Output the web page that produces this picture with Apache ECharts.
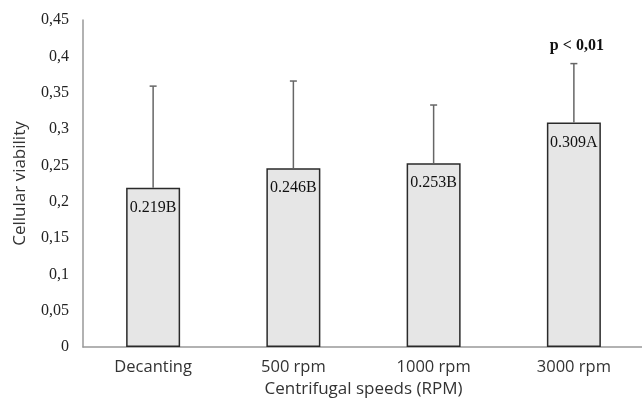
<!DOCTYPE html>
<html><head><meta charset="utf-8">
<script src="https://cdn.jsdelivr.net/npm/echarts@6/dist/echarts.min.js"></script>
<style>html,body{margin:0;padding:0;background:#fff}#c{width:642px;height:400px}</style>
</head><body><div id="c"></div>
<script>
const categories = ['Decanting', '500 rpm', '1000 rpm', '3000 rpm'];
const means = [0.219, 0.246, 0.253, 0.309];
const errorTops = [0.359, 0.366, 0.333, 0.390];
const letters = ['B', 'B', 'B', 'A'];
const notes = ['', '', '', 'p < 0,01'];
const yTicks = [0, 0.05, 0.1, 0.15, 0.2, 0.25, 0.3, 0.35, 0.4, 0.45];

const chart = echarts.init(document.getElementById('c'));
chart.setOption({
  animation: false,
  grid: { left: 83, right: -2, top: 20, bottom: 53, containLabel: false, outerBoundsMode: 'none' },
  xAxis: {
    type: 'category', data: categories,
    name: 'Centrifugal speeds (RPM)', nameLocation: 'middle', nameGap: 31,
    nameTextStyle: { fontFamily: 'Open Sans', fontSize: 17, color: '#333' },
    axisLine: { lineStyle: { color: '#999', width: 1.5 } },
    axisTick: { show: false },
    axisLabel: { fontFamily: 'Open Sans', fontSize: 16.5, color: '#333', margin: 12 }
  },
  yAxis: {
    type: 'value', min: 0, max: 0.45, interval: 0.05,
    name: 'Cellular viability', nameLocation: 'middle', nameGap: 54,
    nameTextStyle: { fontFamily: 'Open Sans', fontSize: 17, color: '#333' },
    axisLine: { show: true, lineStyle: { color: '#999', width: 1.5 } },
    axisTick: { show: false },
    splitLine: { show: false },
    axisLabel: {
      fontFamily: 'Liberation Serif', fontSize: 16, color: '#222', margin: 14,
      formatter: v => {
        const t = yTicks.find(x => Math.abs(x - v) < 1e-9);
        return String(t !== undefined ? t : v).replace('.', ',');
      }
    }
  },
  series: [
    {
      type: 'bar', data: means, barWidth: '38.5%',
      itemStyle: { color: '#e6e6e6', borderColor: '#2a2a2a', borderWidth: 1.5 },
      label: {
        show: true, position: 'insideTop', distance: 12,
        fontFamily: 'Liberation Serif', fontSize: 16, color: '#111',
        formatter: p => means[p.dataIndex].toFixed(3) + letters[p.dataIndex]
      },
      z: 2
    },
    {
      type: 'custom',
      data: categories.map((c, i) => [i, means[i], errorTops[i]]),
      renderItem: (params, api) => {
        const i = api.value(0);
        const lo = api.coord([i, api.value(1)]);
        const hi = api.coord([i, api.value(2)]);
        const cap = 3.5;
        const children = [
          { type: 'line', shape: { x1: lo[0], y1: lo[1], x2: hi[0], y2: hi[1] }, style: { stroke: '#666', lineWidth: 1.5 } },
          { type: 'line', shape: { x1: hi[0] - cap, y1: hi[1], x2: hi[0] + cap, y2: hi[1] }, style: { stroke: '#666', lineWidth: 1.5 } }
        ];
        if (notes[i]) {
          children.push({ type: 'text', x: hi[0] + 3, y: hi[1] - 18,
            style: { text: notes[i], fontFamily: 'Liberation Serif', fontWeight: 'bold', fontSize: 16, fill: '#111', align: 'center', verticalAlign: 'middle' } });
        }
        return { type: 'group', children };
      },
      z: 3
    }
  ]
});
</script></body></html>
